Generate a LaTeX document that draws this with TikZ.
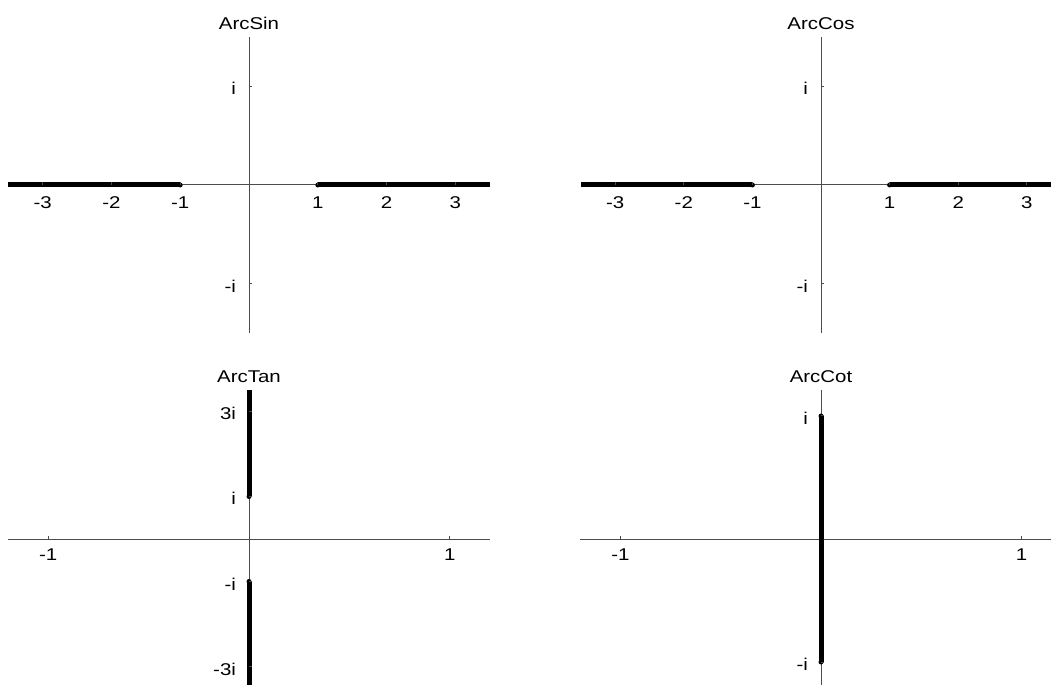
\documentclass[tikz,border=0pt]{standalone}
\usepackage{fontspec}
\setmainfont{Liberation Sans}

\begin{document}
\begin{tikzpicture}[every node/.style={font=\fontsize{9.7}{11}\selectfont, inner sep=0pt, xscale=1.2},
  axis/.style={black!70, line width=0.02cm},
  axtick/.style={black!70, line width=0.02cm},
  cut/.style={black, line width=0.1cm},
  cutend/.style={black}]
  \useasboundingbox (0,0) rectangle (21.02,13.68);
  \clip (0,0) rectangle (21.02,13.68);
  % ArcSin
  \begin{scope}[shift={(4.98,9.98)}, x=1.376cm, y=1.974cm]
    \draw[axis] (-3.5,0) -- (3.5,0);
    \draw[axis] (0,-1.5) -- (0,1.5);
    \draw[cut] (-3.5,0) -- (-1,0);
    \draw[cut] (1,0) -- (3.5,0);
    \fill[cutend] (-1,0) circle (0.05cm);
    \fill[cutend] (1,0) circle (0.05cm);
    \foreach \x in {-3,-2,-1,1,2,3} {
      \draw[axtick] (\x,0) -- ++(0,0.06cm);
      \node[anchor=north, yshift=-0.23cm] (sinx\x) at (\x,0) {\x};
    }
    \draw[axtick] (0,1) -- ++(0.06cm,0);
    \draw[axtick] (0,-1) -- ++(0.06cm,0);
    \node[anchor=base east, xshift=-0.21cm, yshift=-0.17cm] (sinpi) at (0,1) {i};
    \node[anchor=base east, xshift=-0.21cm, yshift=-0.17cm] (sinmi) at (0,-1) {-i};
    \node[anchor=base, yshift=0.155cm] (sintitle) at (0,1.5) {ArcSin};
  \end{scope}
  % ArcCos
  \begin{scope}[shift={(16.42,9.98)}, x=1.372cm, y=1.974cm]
    \draw[axis] (-3.5,0) -- (3.5,0);
    \draw[axis] (0,-1.5) -- (0,1.5);
    \draw[cut] (-3.5,0) -- (-1,0);
    \draw[cut] (1,0) -- (3.5,0);
    \fill[cutend] (-1,0) circle (0.05cm);
    \fill[cutend] (1,0) circle (0.05cm);
    \foreach \x in {-3,-2,-1,1,2,3} {
      \draw[axtick] (\x,0) -- ++(0,0.06cm);
      \node[anchor=north, yshift=-0.23cm] (cosx\x) at (\x,0) {\x};
    }
    \draw[axtick] (0,1) -- ++(0.06cm,0);
    \draw[axtick] (0,-1) -- ++(0.06cm,0);
    \node[anchor=base east, xshift=-0.21cm, yshift=-0.17cm] (cospi) at (0,1) {i};
    \node[anchor=base east, xshift=-0.21cm, yshift=-0.17cm] (cosmi) at (0,-1) {-i};
    \node[anchor=base, yshift=0.155cm] (costitle) at (0,1.5) {ArcCos};
  \end{scope}
  % ArcTan
  \begin{scope}[shift={(4.98,2.90)}, x=4.016cm, y=0.85cm]
    \draw[axis] (-1.2,0) -- (1.2,0);
    \draw[axis] (0,-3.5) -- (0,3.5);
    \draw[cut] (0,1) -- (0,3.5);
    \draw[cut] (0,-1) -- (0,-3.6);
    \fill[cutend] (0,1) circle (0.05cm);
    \fill[cutend] (0,-1) circle (0.05cm);
    \foreach \x in {-1,1} {
      \draw[axtick] (\x,0) -- ++(0,0.06cm);
      \node[anchor=north, yshift=-0.19cm] (tanx\x) at (\x,0) {\x};
    }
    \foreach \y/\t in {3/3i,1/i,-1/-i,-3/-3i} {
      \draw[axtick] (0,\y) -- ++(0.06cm,0);
      \node[anchor=base east, xshift=-0.21cm, yshift=-0.17cm] (tany\y) at (0,\y) {\t};
    }
    \node[anchor=base, yshift=0.16cm] (tantitle) at (0,3.5) {ArcTan};
  \end{scope}
  % ArcCot
  \begin{scope}[shift={(16.42,2.90)}, x=4.01cm, y=2.46cm]
    \draw[axis] (-1.2,0) -- (1.2,0);
    \draw[axis] (0,-1.2) -- (0,1.21);
    \draw[cut] (0,-1) -- (0,1);
    \fill[cutend] (0,1) circle (0.05cm);
    \fill[cutend] (0,-1) circle (0.05cm);
    \foreach \x in {-1,1} {
      \draw[axtick] (\x,0) -- ++(0,0.06cm);
      \node[anchor=north, yshift=-0.19cm] (cotx\x) at (\x,0) {\x};
    }
    \foreach \y/\t in {1/i,-1/-i} {
      \draw[axtick] (0,\y) -- ++(0.06cm,0);
      \node[anchor=base east, xshift=-0.21cm, yshift=-0.17cm] (coty\y) at (0,\y) {\t};
    }
    \node[anchor=base, yshift=0.16cm] (cottitle) at (0,1.21) {ArcCot};
  \end{scope}
\end{tikzpicture}
\end{document}
